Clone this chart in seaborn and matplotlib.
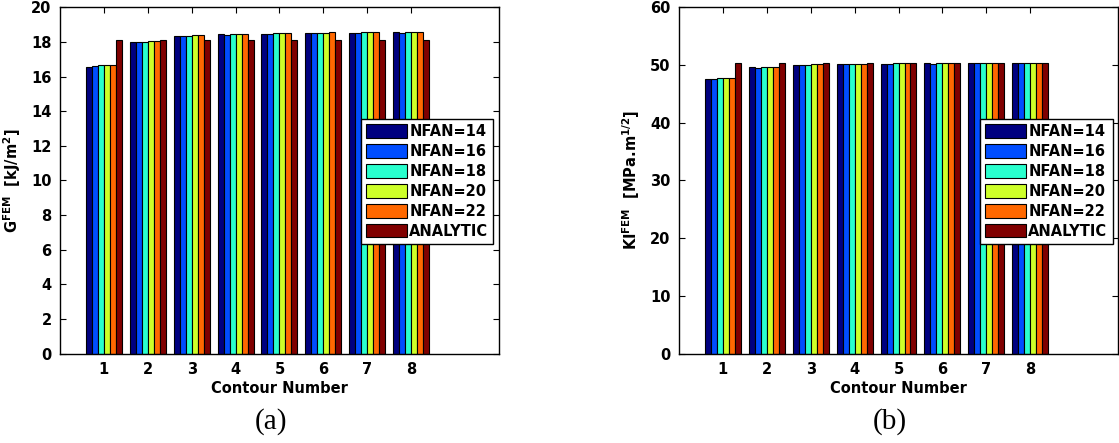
import numpy as np
import pandas as pd
import matplotlib
matplotlib.use("Agg")
import matplotlib.pyplot as plt
from matplotlib.patches import Patch
import seaborn as sns

# values
contours = [1, 2, 3, 4, 5, 6, 7, 8]
series = ["NFAN=14", "NFAN=16", "NFAN=18", "NFAN=20", "NFAN=22", "ANALYTIC"]

g_nfan14 = [16.54, 17.98, 18.35, 18.48, 18.48, 18.54, 18.54, 18.60]
g_nfan16 = [16.60, 17.98, 18.35, 18.42, 18.48, 18.54, 18.54, 18.54]
g_nfan18 = [16.65, 17.98, 18.35, 18.48, 18.54, 18.54, 18.60, 18.60]
g_nfan20 = [16.65, 18.04, 18.42, 18.48, 18.54, 18.54, 18.60, 18.60]
g_nfan22 = [16.65, 18.04, 18.42, 18.48, 18.54, 18.60, 18.60, 18.60]
g_analytic = [18.12, 18.12, 18.12, 18.12, 18.12, 18.12, 18.12, 18.12]

k_nfan14 = [47.5, 49.6, 50.0, 50.15, 50.15, 50.4, 50.4, 50.4]
k_nfan16 = [47.5, 49.45, 50.0, 50.15, 50.15, 50.15, 50.4, 50.4]
k_nfan18 = [47.7, 49.6, 50.0, 50.15, 50.4, 50.4, 50.4, 50.4]
k_nfan20 = [47.7, 49.6, 50.15, 50.15, 50.4, 50.4, 50.4, 50.4]
k_nfan22 = [47.7, 49.6, 50.15, 50.15, 50.4, 50.4, 50.4, 50.4]
k_analytic = [50.4, 50.4, 50.4, 50.4, 50.4, 50.4, 50.4, 50.4]

g_ticks = [0, 2, 4, 6, 8, 10, 12, 14, 16, 18, 20]
k_ticks = [0, 10, 20, 30, 40, 50, 60]


def long_frame(columns):
    rows = []
    for name, vals in zip(series, columns):
        for c, v in zip(contours, vals):
            rows.append({"contour": c, "series": name, "value": v})
    return pd.DataFrame(rows)


g_df = long_frame([g_nfan14, g_nfan16, g_nfan18, g_nfan20, g_nfan22, g_analytic])
k_df = long_frame([k_nfan14, k_nfan16, k_nfan18, k_nfan20, k_nfan22, k_analytic])

sns.set_style("ticks")
plt.rcParams["font.family"] = ["DejaVu Sans"]
plt.rcParams["font.weight"] = "bold"
plt.rcParams["axes.labelweight"] = "bold"
plt.rcParams["mathtext.default"] = "bf"
for key in ["text.color", "axes.labelcolor", "xtick.color", "ytick.color",
            "axes.edgecolor"]:
    plt.rcParams[key] = "black"

colors = [plt.cm.jet(t) for t in np.linspace(0, 1, 6)]
palette = dict(zip(series, colors))

fig = plt.figure(figsize=(11.19, 4.43), dpi=100)
ax_g = fig.add_axes([0.0536, 0.2016, 0.3923, 0.782])
ax_k = fig.add_axes([0.6068, 0.2016, 0.3923, 0.782])


def draw_panel(ax, df, yticks, ylabel, caption):

    sns.barplot(
        data=df, x="contour", y="value", hue="series",
        hue_order=series, palette=palette, native_scale=True,
        width=0.82, gap=0, errorbar=None, edgecolor="black",
        linewidth=0.8, saturation=1, legend=False, ax=ax
    )

    ax.set_xlim(0, 10)
    ax.set_ylim(yticks[0], yticks[-1])
    ax.set_xticks(contours)
    ax.set_xticklabels([str(c) for c in contours])
    ax.set_yticks(yticks)
    ax.tick_params(direction="in", length=4, width=0.8, labelsize=10.5,
                   top=True, right=True, pad=6)
    for spine in ax.spines.values():
        spine.set_visible(True)
        spine.set_linewidth(1.0)
        spine.set_color("black")

    ax.set_xlabel("Contour Number", fontsize=10.5, labelpad=3)
    ax.set_ylabel(ylabel, fontsize=10.5, labelpad=6)

    handles = [Patch(facecolor=palette[s], edgecolor="black", linewidth=0.8)
               for s in series]
    leg = ax.legend(
        handles, series, loc="upper left", bbox_to_anchor=(0.686, 0.678),
        fontsize=10.5, frameon=True, fancybox=False, framealpha=1,
        edgecolor="black", handlelength=2.8, handleheight=1.05,
        handletextpad=0.15, labelspacing=0.34, borderpad=0.35,
        borderaxespad=0
    )
    leg.get_frame().set_linewidth(1.0)
    for t in leg.get_texts():
        t.set_fontweight("bold")

    ax.text(0.48, -0.195, caption, transform=ax.transAxes, ha="center",
            va="center", fontsize=21, family="Liberation Serif",
            fontweight="normal")


draw_panel(ax_g, g_df, g_ticks, r"G$^{FEM}$  [kJ/m$^{2}$]", "(a)")
draw_panel(ax_k, k_df, k_ticks, r"KI$^{FEM}$  [MPa.m$^{1/2}$]", "(b)")

fig.savefig("out.png", dpi=100)
